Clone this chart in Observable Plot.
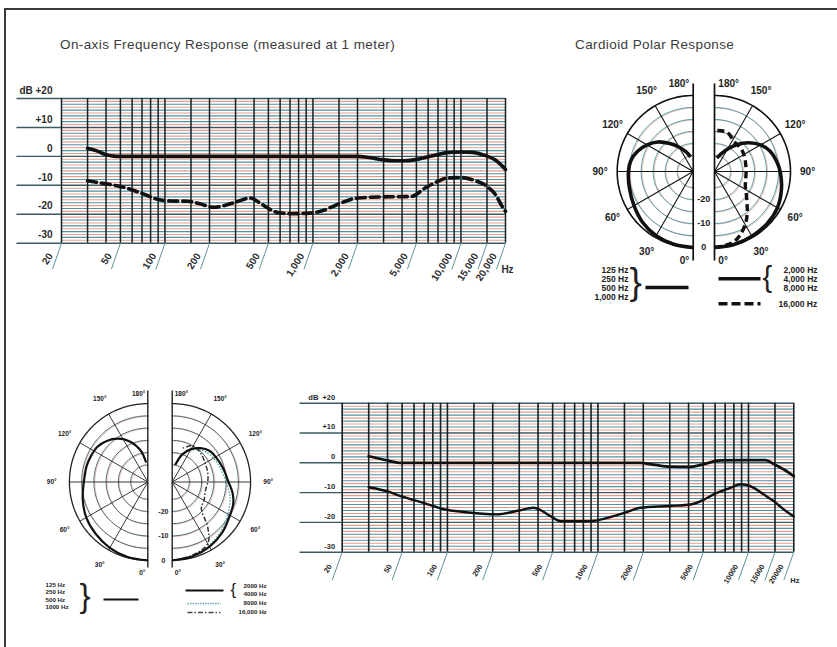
<!DOCTYPE html>
<html>
<head>
<meta charset="utf-8">
<script src="https://cdn.jsdelivr.net/npm/d3@7"></script>
<script src="https://cdn.jsdelivr.net/npm/@observablehq/plot@0.6"></script>
<style>
  html,body{margin:0;padding:0;background:#fff;}
  #root{position:relative;width:837px;height:647px;overflow:hidden;background:#fff;font-family:"Liberation Sans",Arial,Helvetica,sans-serif;}
  #frame{position:absolute;left:4px;top:8px;right:-10px;bottom:-10px;border-left:2px solid #3a3a3a;border-top:2px solid #3a3a3a;}
  .title{position:absolute;font-size:13.5px;letter-spacing:0.4px;line-height:16px;color:#3b3b3b;white-space:nowrap;}
  .layer{position:absolute;}
  .layer svg{overflow:visible;max-width:none;}
</style>
</head>
<body>
<div id="root">
  <div id="frame"></div>
  <div class="title" id="t1" style="left:60px;top:37px;"></div>
  <div class="title" id="t2" style="left:575px;top:37px;"></div>
</div>
<script>
// ---------------- text ----------------
const titles = ["On-axis Frequency Response (measured at 1 meter)", "Cardioid Polar Response"];

// ---------------- frequency-response grids ----------------
const gridHz = [20,30,40,50,60,70,80,90,100,150,200,300,400,500,600,700,800,900,1000,1500,2000,3000,4000,5000,6000,7000,8000,9000,10000,15000,20000];
const tickHz = [20,50,100,200,500,1000,2000,5000,10000,15000,20000];
const tickLabelsTop = ["20","50","100","200","500","1,000","2,000","5,000","10,000","15,000","20,000"];
const tickLabelsBottom = ["20","50","100","200","500","1000","2000","5000","10000","15000","20000"];
const unitLabel = ["Hz"];
const dbMajor = [20,10,0,-10,-20,-30];
const dbLabelsTop = ["dB +20","+10","0","-10","-20","-30"];
const dbLabelsBottom = ["dB  +20","+10","0","-10","-20","-30"];

// top chart: on-axis (solid) and the lower (dashed) curve
const topSolidHz = [30,35,40,45,50,100,500,1000,2000,2400,3000,3600,4200,5300,6900,8000,10000,12000,14000,17000,20000];
const topSolidDb = [2.8,1.8,0.6,0.1,0,0,0,0,0,-0.4,-1.2,-1.5,-1.5,-0.8,0.6,1.3,1.5,1.4,0.6,-1.2,-4.5];
const topDashHz = [30,40,50,70,90,110,142,170,213,260,300,378,450,570,700,960,1200,1450,2000,3000,4600,5700,7000,8000,10000,12000,15000,17000,19000,20000];
const topDashDb = [-8.4,-9.5,-10.4,-12.8,-14.9,-15.4,-15.5,-16.3,-17.6,-16.8,-15.8,-14.4,-16.5,-19.3,-19.8,-19.6,-18.5,-16.7,-14.4,-14.0,-13.9,-11.0,-8.6,-7.5,-7.3,-8.1,-10.4,-13.0,-17.3,-19.0];

// bottom chart
const botSolidHz = [30,40,48,100,1000,1900,2400,3000,4000,5000,6500,9000,13000,14800,17500,20000];
const botSolidDb = [2.2,0.8,0,0,0,0,-0.7,-1.3,-1.4,-0.5,0.8,0.9,0.9,-0.5,-2.5,-4.5];
const botLowHz = [30,40,49,70,95,128,214,300,373,420,484,566,894,1153,1500,1919,3000,4122,5000,5887,7500,8865,10862,12500,14750,17000,20000];
const botLowDb = [-8.2,-9.6,-11.2,-13.5,-15.6,-16.5,-17.3,-16.0,-15.1,-16.0,-17.9,-19.6,-19.6,-18.5,-16.8,-15.1,-14.5,-14.0,-12.5,-10.6,-8.5,-7.2,-8.4,-10.5,-12.9,-15.5,-18.0];

// ---------------- polar diagrams ----------------
const ringDb = [0,-5,-10,-15,-20,-25];
const spokeDeg = [30,60,90,120,150];
const angleDeg = [0,30,60,90,120,150,180];
const angleLabels = ["0°","30°","60°","90°","120°","150°","180°"];
const scaleDb = [-20,-10,0];
const scaleLabels = ["-20","-10","0"];

// top-right polar
const tpLowDeg = [0,15,30,45,60,75,90,100,110,120,130,140,150,160,170];
const tpLowDb  = [0,-0.3,-0.8,-1.8,-3.2,-4.2,-4.7,-5.3,-7,-9.5,-12.5,-16.5,-20,-23,-25.5];
const tpMidDeg = [0,15,30,45,60,75,90,100,110,120,130,140,150,160,170];
const tpMidDb  = [0,-0.2,-0.5,-0.8,-1.4,-2.8,-4.3,-5.5,-7,-9.5,-13,-17,-21,-24,-26];
const tpHiDeg  = [0,8,15,22,31,38,45,55,65,74,90,104,115,127,137,147,162,178];
const tpHiDb   = [0,-0.5,-1.2,-3.1,-6.5,-9.5,-12.5,-15.5,-17.5,-18.2,-18.5,-18.3,-17.8,-17.2,-17,-16.8,-14.5,-14.6];

// bottom-left polar
const bpLowDeg = [0,15,30,45,60,75,90,105,115,125,135,145,155,167,175];
const bpLowDb  = [0,-0.3,-1,-2,-3,-4.5,-5.9,-6.2,-6.5,-6.9,-8.3,-10.4,-13.5,-18.7,-24];
const bpMidDeg = [0,15,30,45,60,70,80,90,105,120,130,140,150,160,170];
const bpMidDb  = [0,-0.5,-1.5,-3,-4.8,-5.5,-7,-9,-10.5,-11.5,-12.2,-14,-16.5,-20,-25];
const bp8kDeg  = [0,15,30,45,60,75,90,105,120,135,150,165];
const bp8kDb   = [0,-0.8,-2,-3.8,-5.8,-7.5,-10,-11.5,-12.5,-14,-17,-22];
const bpHiDeg  = [0,15,30,38,48,60,75,90,105,120,135,150,165];
const bpHiDb   = [0,-1,-3,-8.4,-16,-17,-18,-17.5,-17,-16.5,-15.5,-15,-18];

// legends
const legTopLeft = ["125 Hz","250 Hz","500 Hz","1,000 Hz"];
const legTopRight = ["2,000 Hz","4,000 Hz","8,000 Hz"];
const legTopHi = ["16,000 Hz"];
const legBotLeft = ["125 Hz","250 Hz","500 Hz","1000 Hz"];
const legBotRight = ["2000 Hz","4000 Hz"];
const legBot8k = ["8000 Hz"];
const legBotHi = ["16,000 Hz"];

const FONT = "Liberation Sans, Arial, Helvetica, sans-serif";
const zip = (a, b) => a.map((v, i) => ({k: v, v: b[i]}));

document.getElementById("t1").textContent = titles[0];
document.getElementById("t2").textContent = titles[1];

function layer(node, left, top) {
  const d = document.createElement("div");
  d.className = "layer";
  d.style.left = left + "px";
  d.style.top = top + "px";
  d.appendChild(node);
  document.getElementById("root").appendChild(d);
}

function freqChart(o) {
  const ppd = (o.right - o.left) / 3;
  const ppdb = (o.bottom - o.top) / 50;
  const hzBy = px => Math.pow(10, px / ppd);
  const dbBy = px => px / ppdb;
  const minor = d3.range(-29, 20);
  const ticks = tickHz.map((f, i) => ({f, label: o.tickLabels[i]}));
  const majors = dbMajor.map((db, i) => ({db, label: o.dbLabels[i]}));
  const solid = zip(o.solidHz, o.solidDb);
  const low = zip(o.lowHz, o.lowDb);
  return Plot.plot({
    width: o.w, height: o.h,
    marginLeft: o.left, marginRight: o.w - o.right, marginTop: o.top, marginBottom: o.h - o.bottom,
    x: {type: "log", domain: [20, 20000], axis: null},
    y: {domain: [-30, 20], axis: null},
    style: {background: "transparent", overflow: "visible", fontFamily: FONT},
    marks: [
      Plot.ruleY(minor.filter(d => Math.abs(d) % 2 === 1), {y: d => d, x1: 20, x2: 20000, stroke: "#e99b89", strokeWidth: 1.1}),
      Plot.ruleY(minor.filter(d => Math.abs(d) % 2 === 0 && d % 10 !== 0), {y: d => d, x1: 20, x2: 20000, stroke: "#4c93a6", strokeWidth: 1.1}),
      Plot.ruleY(majors, {y: "db", x1: o.extHz, x2: 20000, stroke: "#3a5a62", strokeWidth: 1.4}),
      Plot.ruleX(gridHz, {x: d => d, y1: -30, y2: 20, stroke: "#142226", strokeWidth: o.vw}),
      Plot.link(ticks, {x1: "f", y1: -30, x2: d => d.f / hzBy(o.leadDx), y2: -30 - dbBy(o.leadDy), stroke: "#5f909b", strokeWidth: 1}),
      Plot.text(ticks, {x: d => d.f / hzBy(o.labDx), y: -30 - dbBy(o.labDy), text: "label", rotate: -58, textAnchor: "end", lineAnchor: "middle", fontSize: o.tickFs, fontWeight: "bold", fill: "#2b2b2b"}),
      Plot.text(unitLabel, {x: 20000 * hzBy(o.hzDx), y: -30 - dbBy(o.hzDy), text: d => d, fontSize: o.tickFs, fontWeight: "bold", fill: "#2b2b2b"}),
      Plot.text(majors, {x: 20, y: "db", dx: -o.dbDx, dy: -o.dbDy, text: "label", textAnchor: "end", fontSize: o.dbFs, fontWeight: "bold", fill: "#2b2b2b"}),
      Plot.line(low, {x: "k", y: "v", stroke: "#111", strokeWidth: o.lowW, strokeDasharray: o.lowDash, curve: "monotone-x"}),
      Plot.line(solid, {x: "k", y: "v", stroke: "#111", strokeWidth: o.solidW, curve: "monotone-x"})
    ]
  });
}

function polarChart(o) {
  const P = (side, deg, db) => {
    const r = Math.max(0, o.R0 + db), a = deg * Math.PI / 180;
    return {x: side * (o.gap / 2 + r * Math.sin(a)), y: -r * Math.cos(a)};
  };
  const sides = [-1, 1];
  const rings = [];
  for (const ring of ringDb) for (const s of sides) for (let a = 0; a <= 180; a += 2)
    rings.push({...P(s, a, ring), key: ring + "_" + s, outer: ring === 0});
  const spokes = [];
  for (const s of sides) for (const a of spokeDeg) {
    const p0 = P(s, a, -o.R0), p1 = P(s, a, 0);
    spokes.push({x1: p0.x, y1: p0.y, x2: p1.x, y2: p1.y});
  }
  const verts = sides.map(s => ({x: s * o.gap / 2}));
  const mids = [], ends = {"-1": [], "1": []};
  for (const s of sides) angleDeg.forEach((a, i) => {
    if (a === 0 || a === 180) ends[s].push({x: s * (o.gap / 2 + o.endOff), y: a === 180 ? o.labTop : -o.labBottom, t: angleLabels[i]});
    else mids.push({...P(s, a, o.labelR - o.R0), t: angleLabels[i]});
  });
  const scales = scaleDb.map((db, i) => ({x: o.scaleX, y: -(o.R0 + db), t: scaleLabels[i]}));
  const curveMarks = o.curves.map(c => Plot.line(c.deg.map((d, i) => P(c.side, d, c.db[i])),
    {x: "x", y: "y", stroke: c.stroke || "#111", strokeWidth: c.width, strokeDasharray: c.dash, curve: "catmull-rom", strokeLinecap: "butt"}));
  return Plot.plot({
    width: o.w, height: o.h, margin: 0,
    x: {domain: [-o.cx / o.k, (o.w - o.cx) / o.k], range: [0, o.w], axis: null},
    y: {domain: [-(o.h - o.cy) / o.k, o.cy / o.k], range: [o.h, 0], axis: null},
    style: {background: "transparent", overflow: "visible", fontFamily: FONT},
    marks: [
      Plot.line(rings.filter(d => !d.outer), {x: "x", y: "y", z: "key", dx: 1, dy: 0.6, stroke: "#eba697", strokeOpacity: 0.7, strokeWidth: o.ringW}),
      Plot.line(rings.filter(d => !d.outer), {x: "x", y: "y", z: "key", stroke: o.ringStroke, strokeWidth: o.ringW}),
      Plot.link(spokes, {x1: "x1", y1: "y1", x2: "x2", y2: "y2", stroke: o.ink, strokeWidth: o.spokeW}),
      Plot.line(rings.filter(d => d.outer), {x: "x", y: "y", z: "key", stroke: o.ink, strokeWidth: o.outerW}),
      Plot.link(verts, {x1: "x", x2: "x", y1: -o.extDown, y2: o.extUp, stroke: o.ink, strokeWidth: o.vertW}),
      ...curveMarks,
      Plot.text(mids, {x: "x", y: "y", text: "t", fontSize: o.fs, fontWeight: "bold", fill: "#222"}),
      Plot.text(ends["-1"], {x: "x", y: "y", text: "t", textAnchor: "end", fontSize: o.fs, fontWeight: "bold", fill: "#222"}),
      Plot.text(ends["1"], {x: "x", y: "y", text: "t", textAnchor: "start", fontSize: o.fs, fontWeight: "bold", fill: "#222"}),
      Plot.text(scales, {x: "x", y: "y", text: "t", fontSize: o.scaleFs, fontWeight: "bold", fill: "#222"})
    ]
  });
}

function legendChart(o) {
  const rows = (labels, ys, x) => labels.map((t, i) => ({t, x, y: ys[i]}));
  const txt = (data, anchor) => Plot.text(data, {x: "x", y: "y", text: "t", textAnchor: anchor, fontSize: o.fs, fontWeight: "bold", fill: "#222"});
  return Plot.plot({
    width: o.w, height: o.h, margin: 0,
    x: {domain: [0, o.w], range: [0, o.w], axis: null},
    y: {domain: [0, o.h], range: [0, o.h], axis: null},
    style: {background: "transparent", overflow: "visible", fontFamily: FONT},
    marks: [
      txt(rows(o.leftLabels, o.leftY, o.leftX), o.leftAnchor),
      txt(rows(o.rightLabels, o.rightY, o.rightX), "start"),
      ...o.extra.map(e => txt(rows(e.labels, [e.y], e.x), "start")),
      Plot.text(o.braces, {x: "x", y: "y", text: "t", textAnchor: "start", fontSize: d => d.fs, fontWeight: "normal", fill: "#222"}),
      ...o.lines.map(l => Plot.link([l], {x1: "x1", x2: "x2", y1: "y", y2: "y", stroke: l.stroke || "#111", strokeWidth: l.w, strokeDasharray: l.dash}))
    ]
  });
}

// ---------- top-left frequency response ----------
layer(freqChart({
  w: 530, h: 230, left: 61, right: 505, top: 38, bottom: 182.7,
  tickLabels: tickLabelsTop, dbLabels: dbLabelsTop, extHz: 10,
  solidHz: topSolidHz, solidDb: topSolidDb, lowHz: topDashHz, lowDb: topDashDb,
  solidW: 3.6, lowW: 3.6, lowDash: "9,5", vw: 1.5,
  leadDx: 9, leadDy: 26, labDx: 11, labDy: 11, hzDx: 2, hzDy: 27, tickFs: 10,
  dbDx: 9, dbDy: 8, dbFs: 10
}), 0, 60);

// ---------- bottom-right frequency response ----------
layer(freqChart({
  w: 540, h: 220, left: 51.7, right: 503.3, top: 22.7, bottom: 171.7,
  tickLabels: tickLabelsBottom, dbLabels: dbLabelsBottom, extHz: 10.5,
  solidHz: botSolidHz, solidDb: botSolidDb, lowHz: botLowHz, lowDb: botLowDb,
  solidW: 2.8, lowW: 2.4, lowDash: null, vw: 1.6,
  leadDx: 10, leadDy: 28, labDx: 12, labDy: 13, hzDx: 1, hzDy: 28, tickFs: 7.5,
  dbDx: 7, dbDy: 6, dbFs: 7.5
}), 290, 380);

// ---------- top-right polar ----------
layer(polarChart({
  w: 277, h: 212, cx: 143.35, cy: 111, k: 2.4, R0: 31.67, gap: 8.875,
  extUp: 36.7, extDown: 37.1, labTop: 36.7, labBottom: 37.1, endOff: 1.6, labelR: 38.8,
  ringStroke: "#4f95a5", ringW: 1, ink: "#111", outerW: 1.6, spokeW: 1.1, vertW: 1.7,
  fs: 10, scaleFs: 9, scaleX: 0,
  curves: [
    {side: -1, deg: tpLowDeg, db: tpLowDb, width: 3.6},
    {side: 1, deg: tpMidDeg, db: tpMidDb, width: 3.6},
    {side: 1, deg: tpHiDeg, db: tpHiDb, width: 3.4, dash: "7,4"}
  ]
}), 560, 60);

layer(legendChart({
  w: 267, h: 50, fs: 8.5,
  leftLabels: legTopLeft, leftY: [7.3, 16.3, 25.3, 34.7], leftX: 58, leftAnchor: "end",
  rightLabels: legTopRight, rightY: [7.3, 16.3, 25.3], rightX: 213,
  extra: [{labels: legTopHi, x: 208, y: 41.3}],
  braces: [{t: "}", x: 59, y: 20, fs: 37}, {t: "{", x: 192, y: 15.5, fs: 29}],
  lines: [
    {x1: 75, x2: 118, y: 25, w: 3.6},
    {x1: 148, x2: 190, y: 16.3, w: 3.6},
    {x1: 148, x2: 190, y: 41.3, w: 3.6, dash: "9,4"}
  ]
}), 570, 262);

// ---------- bottom-left polar ----------
layer(polarChart({
  w: 260, h: 200, cx: 129.5, cy: 101.5, k: 2.45, R0: 32, gap: 9.96,
  extUp: 37.3, extDown: 34.9, labTop: 36.1, labBottom: 37, endOff: 1, labelR: 39.2,
  ringStroke: "#33585f", ringW: 0.9, ink: "#222", outerW: 1.3, spokeW: 0.9, vertW: 1.4,
  fs: 6.5, scaleFs: 7, scaleX: 1.4,
  curves: [
    {side: -1, deg: bpLowDeg, db: bpLowDb, width: 2.2},
    {side: 1, deg: bp8kDeg, db: bp8kDb, width: 1.4, dash: "1.5,1.5", stroke: "#5aa5b0"},
    {side: 1, deg: bpHiDeg, db: bpHiDb, width: 1.5, dash: "5,2,1.5,2", stroke: "#333"},
    {side: 1, deg: bpMidDeg, db: bpMidDb, width: 2.2}
  ]
}), 30, 380);

layer(legendChart({
  w: 260, h: 45, fs: 6.2,
  leftLabels: legBotLeft, leftY: [10, 16.7, 24.3, 31.7], leftX: 15, leftAnchor: "start",
  rightLabels: legBotRight, rightY: [11, 19], rightX: 213,
  extra: [{labels: legBot8k, x: 213, y: 28}, {labels: legBotHi, x: 208, y: 37}],
  braces: [{t: "}", x: 49, y: 21, fs: 33}, {t: "{", x: 200, y: 14, fs: 17}],
  lines: [
    {x1: 73, x2: 108, y: 24, w: 2},
    {x1: 155, x2: 193, y: 15, w: 2},
    {x1: 157, x2: 190, y: 28, w: 1.4, dash: "1.5,1", stroke: "#6aaab5"},
    {x1: 157, x2: 190, y: 37, w: 1.5, dash: "5,2,1.5,2", stroke: "#444"}
  ]
}), 30, 575);
</script>
</body>
</html>
